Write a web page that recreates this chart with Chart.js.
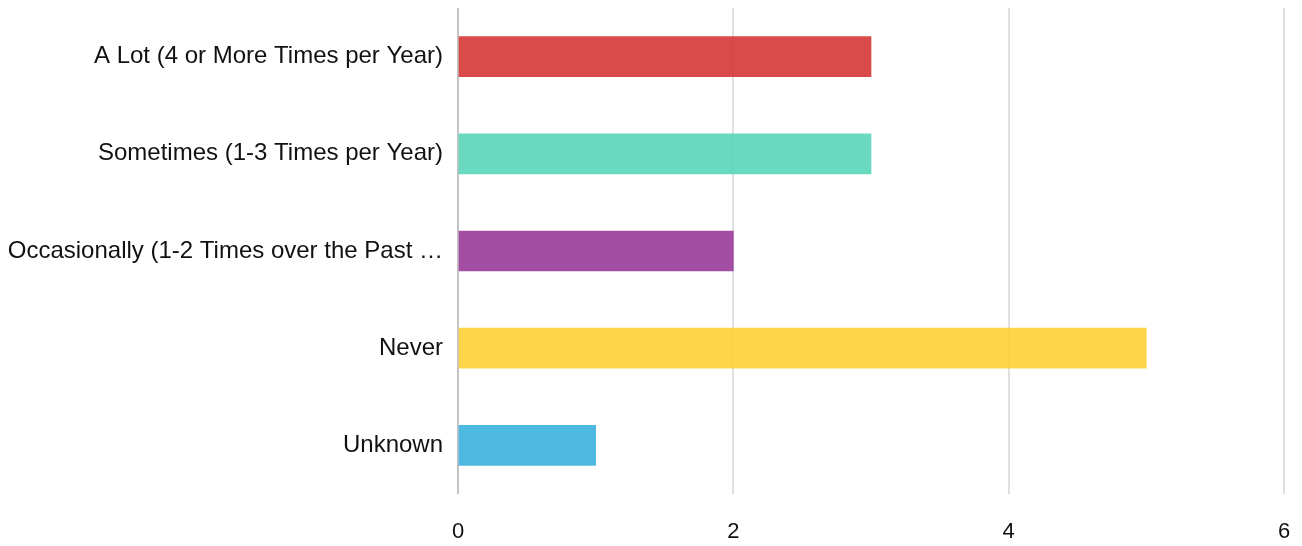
<!DOCTYPE html>
<html>
<head>
<meta charset="utf-8">
<script src="https://cdn.jsdelivr.net/npm/chart.js@4"></script>
<style>
  html, body { margin: 0; padding: 0; background: #fff; }
  #wrap { width: 1302px; height: 546px; }
</style>
</head>
<body>
<div id="wrap"><canvas id="freqChart"></canvas></div>
<script>
let categories = [
  "A Lot (4 or More Times per Year)",
  "Sometimes (1-3 Times per Year)",
  "Occasionally (1-2 Times over the Past \u2026",
  "Never",
  "Unknown"
];
let counts = [3, 3, 2, 5, 1];
let barColors = [
  "rgba(213, 54, 54, 0.9)",
  "rgba(89, 213, 185, 0.9)",
  "rgba(154, 59, 153, 0.9)",
  "rgba(253, 207, 54, 0.9)",
  "rgba(59, 177, 221, 0.9)"
];
let xTicks = [0, 2, 4, 6];

let labelFont = "'Liberation Sans', Arial, sans-serif";

let ctx = document.getElementById("freqChart").getContext("2d");
let freqChart = new Chart(ctx, {
  type: "bar",
  data: {
    labels: categories,
    datasets: [{
      data: counts,
      backgroundColor: barColors,
      borderWidth: 0,
      barThickness: 40
    }]
  },
  options: {
    indexAxis: "y",
    responsive: true,
    maintainAspectRatio: false,
    animation: false,
    layout: { padding: { top: 8, right: 18, left: 0, bottom: 0 } },
    plugins: {
      legend: { display: false },
      tooltip: { enabled: false }
    },
    scales: {
      x: {
        min: 0,
        max: 6,
        afterBuildTicks: function (scale) {
          scale.ticks = xTicks.map(v => ({ value: v }));
        },
        afterFit: function (scale) {
          scale.height = 52;
          scale.paddingLeft = 0;
          scale.paddingRight = 0;
        },
        border: { display: false },
        grid: {
          drawTicks: false,
          lineWidth: 2,
          color: function (c) { return c.tick && c.tick.value === 0 ? "#c4c4c4" : "#e0e0e0"; }
        },
        ticks: {
          padding: 25,
          color: "#111",
          font: { family: labelFont, size: 22 }
        }
      },
      y: {
        afterFit: function (scale) {
          scale.width = 458;
          scale.paddingTop = 0;
          scale.paddingBottom = 0;
        },
        border: { display: false },
        grid: { display: false, drawTicks: false },
        ticks: {
          padding: 15,
          color: "#111",
          font: { family: labelFont, size: 24 }
        }
      }
    }
  }
});
</script>
</body>
</html>
